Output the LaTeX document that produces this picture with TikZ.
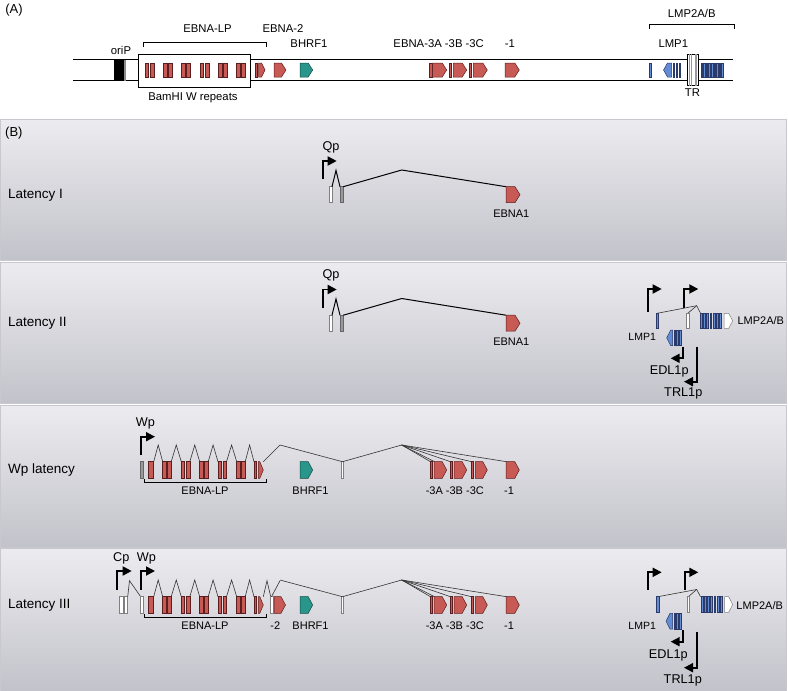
\documentclass[tikz,border=0pt]{standalone}
\usepackage{fontspec}
\setmainfont{Liberation Sans}
\usetikzlibrary{arrows.meta}
\definecolor{exred}{HTML}{C85A55}
\definecolor{exredd}{HTML}{5A1E1E}
\definecolor{tealA}{HTML}{28968A}
\definecolor{tealD}{HTML}{174A44}
\definecolor{blueA}{HTML}{648CD2}
\definecolor{blueD}{HTML}{2A3A6A}
\definecolor{blueM}{HTML}{4A64A0}
\definecolor{pantop}{HTML}{ECECF0}
\definecolor{panbot}{HTML}{C2C2CA}
\definecolor{panedge}{HTML}{C8C8CE}
\newcommand\fs[1]{\fontsize{#1}{#1}\selectfont}
\newcommand\rx[5]{\path[#5] (#1,#3) rectangle (#2,#4);}
\newcommand\pr[6]{\path[#6] (#1,#3) -- ({#2-#5},#3) -- (#2,{(#3+#4)/2}) -- ({#2-#5},#4) -- (#1,#4) -- cycle;}
\newcommand\pl[6]{\path[#6] (#2,#3) -- ({#1+#5},#3) -- (#1,{(#3+#4)/2}) -- ({#1+#5},#4) -- (#2,#4) -- cycle;}
\tikzset{
  redex/.style={fill=exred, draw=exredd, line width=0.5pt},
  tealex/.style={fill=tealA, draw=tealD, line width=0.5pt},
  blueex/.style={fill=blueA, draw=blueD, line width=0.5pt},
  bluebar/.style={fill=blueA, draw=blueD, line width=0.3pt},
  grayex/.style={fill=black!40, draw=black!60, line width=0.5pt},
  whiteex/.style={fill=white, draw=black!50, line width=0.5pt},
  splice/.style={draw=black!80, line width=0.6pt},
  splicebold/.style={draw=black, line width=1pt},
  promo/.style={line width=1.8pt, -{Triangle[length=9pt,width=9pt]}},
  alab/.style={font=\fs{11.3}, inner sep=0pt},
  blab/.style={font=\fs{11}, inner sep=0pt},
  plab/.style={font=\fs{12.7}, inner sep=0pt},
  latlab/.style={font=\fs{13.5}, inner sep=0pt, anchor=west},
  panelbg/.style={top color=pantop, bottom color=panbot, draw=panedge, line width=0.5pt},
  brk/.style={draw=black, line width=0.7pt}
}
% Wp/Latency III row of EBNA genes
\newcommand\lprow[1]{%
  \pgfmathsetmacro\Yb{#1}\pgfmathsetmacro\Yo{#1+16.6}\pgfmathsetmacro\Yp{#1-16.7}\pgfmathsetmacro\Yl{#1+29.3}%
  \rx{148.3}{153.7}{\Yb}{\Yo}{redex}
  \foreach \L in {162.7,181.3,199.7,218,236.7}{\rx{\L}{\L+3.3}{\Yb}{\Yo}{redex}\rx{\L+5}{\L+8.5}{\Yb}{\Yo}{redex}}
  \rx{254}{256.7}{\Yb}{\Yo}{redex}
  \pr{258.3}{263.3}{\Yb}{\Yo}{3.5}{redex}
  \foreach \a/\b in {153.7/162.7,171.2/181.3,189.8/199.7,208.2/218,226.5/236.7,245.2/254}{\draw[splice] (\a,\Yb) -- ({(\a+\b)/2},\Yp) -- (\b,\Yb);}
  \draw[brk] (144,\Yo+0.7) -- (144,\Yo+4.4) -- (266,\Yo+4.4) -- (266,\Yo+0.7);
  \pr{300}{312.7}{\Yb}{\Yo}{4.5}{tealex}
  \rx{341.7}{343.3}{\Yb}{\Yo}{whiteex}
  \rx{430}{432.7}{\Yb}{\Yo}{redex}\pr{434}{446.7}{\Yb}{\Yo}{4.5}{redex}
  \rx{450}{452}{\Yb}{\Yo}{redex}\pr{454}{466.7}{\Yb}{\Yo}{4.5}{redex}
  \rx{471}{473.3}{\Yb}{\Yo}{redex}\pr{475.3}{487.3}{\Yb}{\Yo}{4.5}{redex}
  \pr{506}{519.3}{\Yb}{\Yo}{4.5}{redex}
  \draw[splice] (280,\Yp) -- (342.5,\Yb) -- (401.7,\Yp);
  \foreach \t in {430.5,434.5,450.5,471.5,506.5}{\draw[splice] (401.7,\Yp) -- (\t,\Yb);}
  \node[blab] at (205,\Yl) {EBNA-LP};
  \node[blab] at (310.5,\Yl) {BHRF1};
  \node[blab] at (454.8,\Yl) {-3A -3B -3C};
  \node[blab] at (509,\Yl) {-1};
}
\begin{document}
\begin{tikzpicture}[x=1pt,y=-1pt]
\useasboundingbox (0,0) rectangle (788,691);
% ================= Panel A =================
\node[font=\fs{13}, inner sep=0pt] (labA) at (14,10) {(A)};
\draw[line width=0.8pt] (73,59.5) coordinate (gtl) -- (733,59.5) coordinate (gtr);
\draw[line width=0.8pt] (73,80.5) coordinate (gbl) -- (733,80.5) coordinate (gbr);
\fill (114,59.5) rectangle (124,80.5);
\fill[black!45] (124,59.5) rectangle (126,80.5);
\draw[fill=white, line width=0.8pt] (138,54) rectangle (250,87);
\foreach \L in {145,163.3,181.7,200,218.3,236.7}{\rx{\L}{\L+3.7}{63}{77}{redex}\rx{\L+5}{\L+9}{63}{77}{redex}}
\rx{255}{257.3}{63}{77}{redex}
\pr{258.7}{265}{63}{77}{3.5}{redex}
\pr{274}{286}{63}{77}{4.5}{redex}
\pr{300}{312.7}{63}{77}{4.5}{tealex}
\rx{429.3}{432}{63}{77}{redex}\pr{432.7}{446.7}{63}{77}{4.5}{redex}
\rx{449.3}{451.7}{63}{77}{redex}\pr{453.3}{466.7}{63}{77}{4.5}{redex}
\rx{469.3}{471.7}{63}{77}{redex}\pr{473.3}{487.3}{63}{77}{4.5}{redex}
\pr{505}{519.3}{63}{77}{4.5}{redex}
\rx{649.3}{651}{63}{77}{bluebar}
\pl{663.5}{671.5}{63}{77}{4}{blueex}
\foreach \x in {673,676,679}{\rx{\x}{\x+1.6}{63}{77}{bluebar}}
\draw[fill=white, line width=0.7pt] (687.3,54.3) rectangle (698.3,85.7);
\foreach \x in {689.5,691,694.8,696.3}{\draw[black!40, line width=0.4pt] (\x,54.3) -- (\x,85.7);}
\foreach \i in {0,...,8}{\rx{700.9+2.55*\i}{702.5+2.55*\i}{63}{77}{bluebar}}
\draw[brk] (143,47) -- (143,42) -- (266,42) -- (266,47);
\draw[brk] (649,29) -- (649,24) -- (734,24) -- (734,29);
\node[alab] (tLP) at (207.5,29) {EBNA-LP};
\node[alab] (tE2) at (283,29) {EBNA-2};
\node[alab] (tori) at (121,50) {oriP};
\node[alab] (tBH) at (309,44) {BHRF1};
\node[alab] (tE3) at (438.7,44) {EBNA-3A -3B -3C};
\node[alab] (tE1) at (510,44) {-1};
\node[alab] (tL2) at (691.7,13) {LMP2A/B};
\node[alab] (tL1) at (673.3,44) {LMP1};
\node[alab] (tTR) at (692.5,93) {TR};
\node[alab] (tBam) at (193,98) {BamHI W repeats};
% ================= Panel backgrounds =================
\shade[panelbg] (0.5,119) rectangle (786.5,260.5);
\shade[panelbg] (0.5,262) rectangle (786.5,403.5);
\shade[panelbg] (0.5,405) rectangle (786.5,547);
\shade[panelbg] (0.5,548.5) rectangle (786.5,691);
\node[font=\fs{13}, inner sep=0pt, anchor=west] (labB) at (5,133) {(B)};
% ================= Latency I =================
\node[latlab] (lat1) at (8,195) {Latency I};
\draw[promo] (322.7,179.3) |- (336.7,161);
\node[plab] (qp1) at (331,147) {Qp};
\rx{329.3}{332}{186.7}{202.7}{whiteex}
\rx{340}{343.3}{186.7}{202.7}{grayex}
\draw[splicebold] (332,186.7) -- (336,170.5) -- (340,186.7);
\draw[splicebold] (343.3,186.7) -- (401.7,170) -- (506,186.7);
\pr{506}{520}{186.7}{202.7}{5}{redex}
\node[blab] (e1a) at (511.3,213.3) {EBNA1};
% ================= Latency II =================
\node[latlab] (lat2) at (8,323) {Latency II};
\draw[promo] (322.7,307.8) |- (336.7,289.5);
\node[plab] (qp2) at (331,275.5) {Qp};
\rx{329.3}{332}{315.2}{331.2}{whiteex}
\rx{340}{343.3}{315.2}{331.2}{grayex}
\draw[splicebold] (332,315.2) -- (336,299) -- (340,315.2);
\draw[splicebold] (343.3,315.2) -- (401.7,298.5) -- (506,315.2);
\pr{506}{520}{315.2}{331.2}{5}{redex}
\node[blab] (e1b) at (511.3,341.8) {EBNA1};
% LMP cluster II
\draw[promo] (648.3,311.7) |- (661.7,289);
\draw[promo] (684.3,308.3) |- (698.3,289);
\draw[splice] (657.2,313.3) -- (696.7,305.7) -- (700.5,313.3);
\draw[splice] (687.8,313.3) -- (696.7,305.7);
\rx{656}{658.3}{313.3}{328.3}{blueex}
\rx{686.7}{689}{313.3}{328.3}{whiteex}
\foreach \i in {0,...,6}{\rx{700.3+3.2*\i}{702.1+3.2*\i}{313.3}{328.3}{blueex}}
\pr{724}{732.7}{313.3}{328.3}{4}{whiteex}
\pl{666.7}{672.7}{330}{345.7}{4}{blueex}
\foreach \x in {674,676.7,679.3}{\rx{\x}{\x+1.5}{330}{345.7}{blueex}}
\draw[promo] (682.7,346.7) |- (670.7,358.3);
\draw[promo] (696.7,346.7) |- (684,381.7);
\node[blab] (l2b) at (760.8,320.7) {LMP2A/B};
\node[font=\fs{10.5}, inner sep=0pt] (l1b) at (642.2,337.3) {LMP1};
\node[plab] (edb) at (669.2,371.7) {EDL1p};
\node[plab] (trb) at (683.3,393.3) {TRL1p};
% ================= Wp latency =================
\node[latlab] (lat3) at (8,470) {Wp latency};
\draw[promo] (140.7,455) |- (155,436.7);
\node[plab] (wp3) at (145.5,423.3) {Wp};
\rx{140.7}{143.3}{461.7}{478.3}{grayex}
\draw[splice] (263.3,461.7) -- (280,445);
\lprow{461.7}
% ================= Latency III =================
\node[latlab] (lat4) at (8,605) {Latency III};
\draw[promo] (117.3,590) |- (131.7,571);
\draw[promo] (140.7,590) |- (155,571);
\node[plab] (cp4) at (121.3,558.3) {Cp};
\node[plab] (wp4) at (146.3,558.3) {Wp};
\rx{119.3}{122.8}{596.7}{613.3}{whiteex}
\rx{124}{127.7}{596.7}{613.3}{whiteex}
\draw[splice] (127.7,596.7) -- (129.5,580.7) -- (140.7,596.7);
\rx{140.7}{143.3}{596.7}{613.3}{whiteex}
\draw[splice] (263.3,596.7) -- (267,580.7) -- (270.7,596.7);
\rx{270.7}{273.3}{596.7}{613.3}{whiteex}
\pr{274}{285.5}{596.7}{613.3}{4.5}{redex}
\draw[splice] (271.5,596.7) -- (280,580.7);
\lprow{596.7}
\node[blab] (m2) at (275.3,626) {-2};
% LMP cluster III
\draw[promo] (648.3,590) |- (661.7,572.3);
\draw[promo] (685,590) |- (698.3,572.3);
\draw[splice] (657.8,596.7) -- (696.7,589.5) -- (700.5,596.7);
\draw[splice] (688.3,596.7) -- (696.7,589.5);
\rx{656.7}{659}{596.7}{612.3}{blueex}
\rx{687.3}{689.3}{596.7}{612.3}{whiteex}
\foreach \i in {0,...,6}{\rx{701+3.2*\i}{702.8+3.2*\i}{596.7}{612.3}{blueex}}
\pr{724.7}{732.7}{596.7}{612.3}{4}{whiteex}
\pl{666}{672.7}{613.3}{629}{4}{blueex}
\foreach \x in {674,676.7,679.3}{\rx{\x}{\x+1.5}{613.3}{629}{blueex}}
\draw[promo] (682.7,630) |- (670.7,641.7);
\draw[promo] (697.3,631.7) |- (684,667.7);
\node[blab] (l2d) at (759.7,606) {LMP2A/B};
\node[font=\fs{10.5}, inner sep=0pt] (l1d) at (642.2,625.7) {LMP1};
\node[plab] (edd) at (668.3,655) {EDL1p};
\node[plab] (trd) at (682.8,680.7) {TRL1p};
\end{tikzpicture}
\end{document}
